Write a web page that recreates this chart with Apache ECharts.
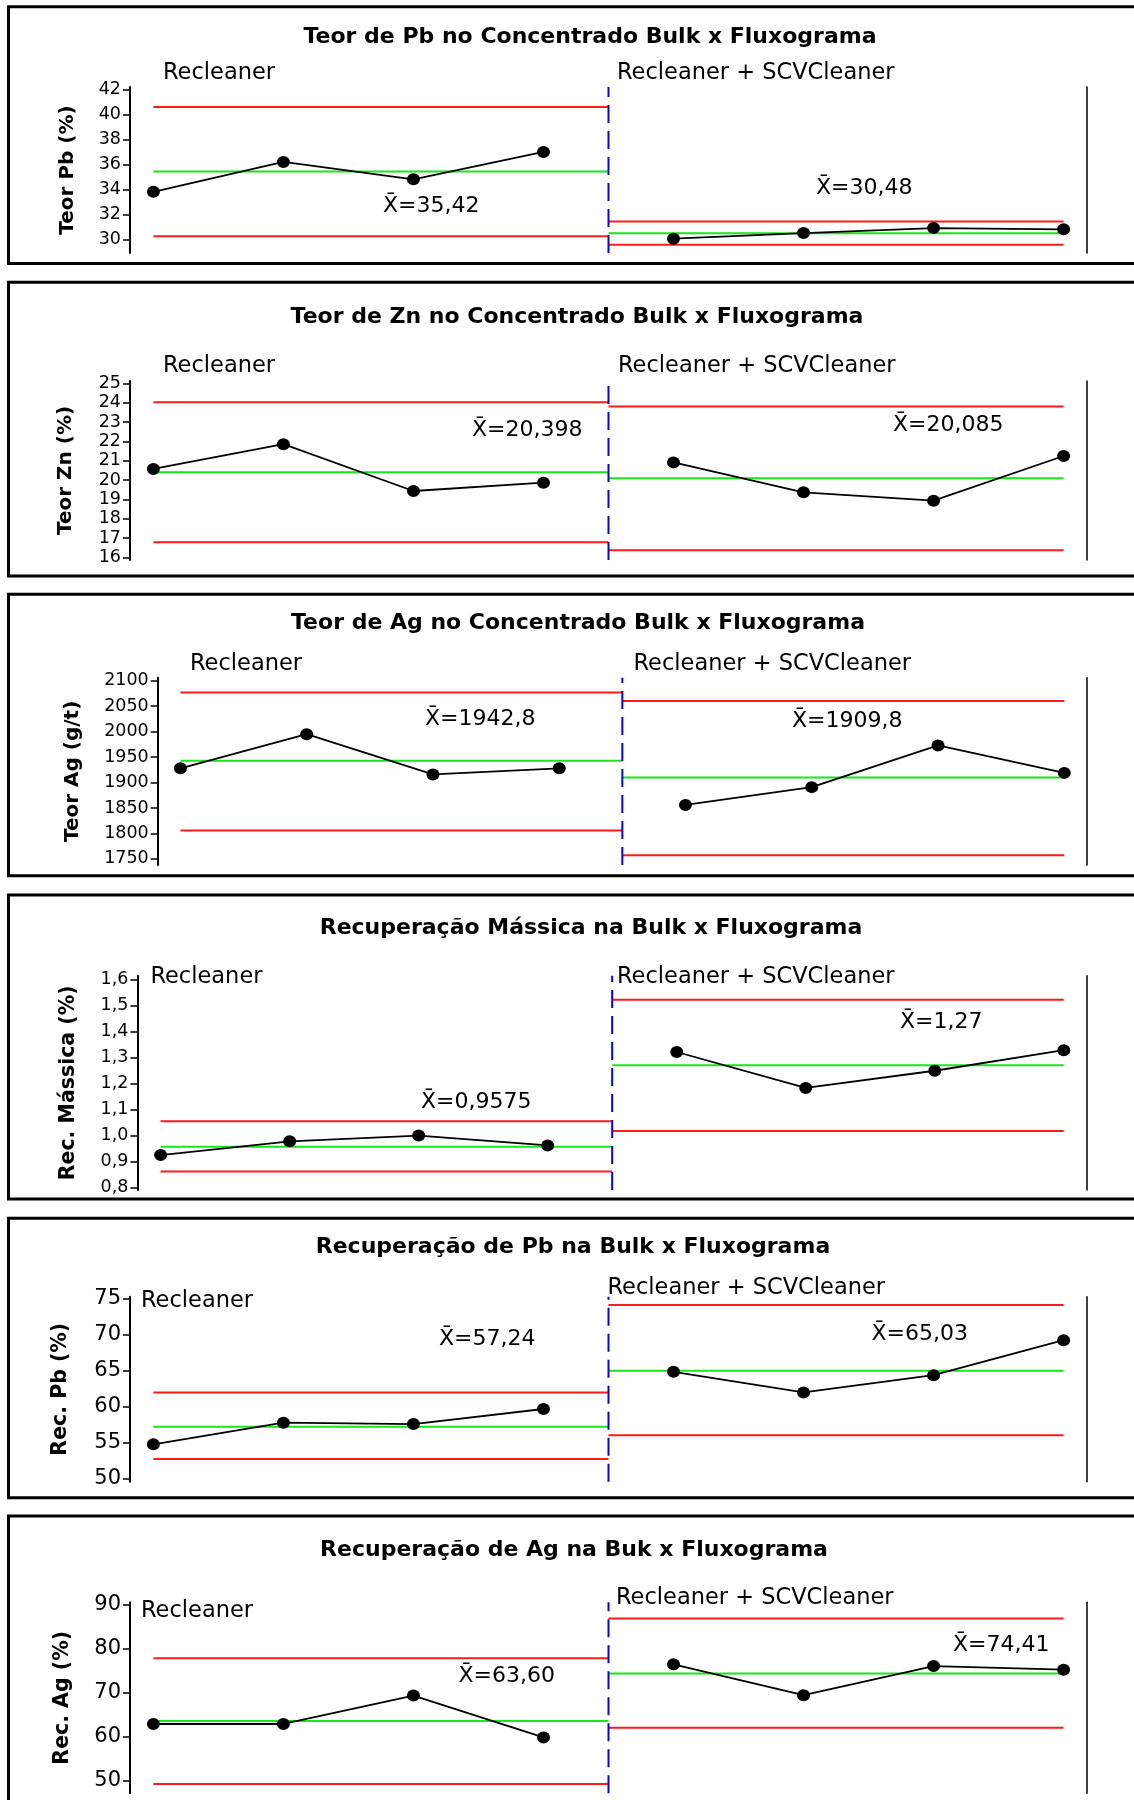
<!DOCTYPE html>
<html>
<head>
<meta charset="utf-8">
<script src="https://cdn.jsdelivr.net/npm/echarts@6/dist/echarts.min.js"></script>
<style>
  html, body { margin: 0; padding: 0; background: #ffffff; }
  #chart { width: 1134px; height: 1800px; }
</style>
</head>
<body>
<div id="chart"></div>
<script>
// Stages of the flowsheet comparison: four tests per stage
const stageNames = ['Recleaner', 'Recleaner + SCVCleaner'];
const pointsPerStage = 4;

// Teor de Pb no concentrado bulk (%)
const teorPbValues = [33.8, 36.2, 34.8, 37.0, 30.05, 30.5, 30.9, 30.8];
const teorPbMean = [35.42, 30.48];
const teorPbUCL = [40.6, 31.42];
const teorPbLCL = [30.25, 29.56];
const teorPbTicks = [30, 32, 34, 36, 38, 40, 42];

// Teor de Zn no concentrado bulk (%)
const teorZnValues = [20.57, 21.85, 19.43, 19.86, 20.91, 19.36, 18.93, 21.24];
const teorZnMean = [20.398, 20.085];
const teorZnUCL = [24.02, 23.8];
const teorZnLCL = [16.78, 16.37];
const teorZnTicks = [16, 17, 18, 19, 20, 21, 22, 23, 24, 25];

// Teor de Ag no concentrado bulk (g/t)
const teorAgValues = [1928, 1995, 1916, 1928, 1856, 1891, 1973, 1919];
const teorAgMean = [1942.8, 1909.8];
const teorAgUCL = [2077, 2060];
const teorAgLCL = [1806, 1757];
const teorAgTicks = [1750, 1800, 1850, 1900, 1950, 2000, 2050, 2100];

// Recuperação mássica na bulk (%)
const recMassValues = [0.925, 0.978, 1.0, 0.962, 1.321, 1.183, 1.249, 1.328];
const recMassMean = [0.9575, 1.27];
const recMassUCL = [1.055, 1.522];
const recMassLCL = [0.862, 1.018];
const recMassTicks = [0.8, 0.9, 1.0, 1.1, 1.2, 1.3, 1.4, 1.5, 1.6];

// Recuperação de Pb na bulk (%)
const recPbValues = [54.8, 57.8, 57.6, 59.7, 64.86, 62.0, 64.4, 69.26];
const recPbMean = [57.24, 65.03];
const recPbUCL = [62.0, 74.15];
const recPbLCL = [52.75, 56.05];
const recPbTicks = [50, 55, 60, 65, 70, 75];

// Recuperação de Ag na bulk (%)
const recAgValues = [62.95, 62.95, 69.4, 59.9, 76.5, 69.5, 76.1, 75.3];
const recAgMean = [63.60, 74.41];
const recAgUCL = [77.9, 86.9];
const recAgLCL = [49.3, 62.1];
const recAgTicks = [50, 60, 70, 80, 90];

const FONT = '"DejaVu Sans", Verdana, sans-serif';
const RED = '#ff1a1a';
const GREEN = '#19e619';
const BLUE = '#0000ff';
const PLOT_RIGHT = 1087;

const panels = [
  { title: 'Teor de Pb no Concentrado Bulk x Fluxograma', yName: 'Teor Pb (%)',
    values: teorPbValues, mean: teorPbMean, ucl: teorPbUCL, lcl: teorPbLCL, ticks: teorPbTicks,
    yMin: 28.9, yMax: 42.2, tickDecimals: 0, meanDecimals: [2, 2],
    frame: [6.7, 263.5], titlePos: [590, 37], grid: [130, 87, 253], nameGap: 52, nameSize: 20, tickSize: 17.5,
    stagePos: [[163, 73], [617, 73]], meanPos: [[383, 206], [816, 188]] },
  { title: 'Teor de Zn no Concentrado Bulk x Fluxograma', yName: 'Teor Zn (%)',
    values: teorZnValues, mean: teorZnMean, ucl: teorZnUCL, lcl: teorZnLCL, ticks: teorZnTicks,
    yMin: 15.86, yMax: 25.12, tickDecimals: 0, meanDecimals: [3, 3],
    frame: [282.3, 576], titlePos: [577, 317], grid: [130, 381, 560], nameGap: 54, nameSize: 20, tickSize: 17.5,
    stagePos: [[163, 366], [618, 366]], meanPos: [[472, 430], [893, 425]] },
  { title: 'Teor de Ag no Concentrado Bulk x Fluxograma', yName: 'Teor Ag (g/t)',
    values: teorAgValues, mean: teorAgMean, ucl: teorAgUCL, lcl: teorAgLCL, ticks: teorAgTicks,
    yMin: 1738, yMax: 2106, tickDecimals: 0, meanDecimals: [1, 1],
    frame: [594.3, 875.7], titlePos: [578, 623], grid: [157.7, 677.7, 865], nameGap: 75, nameSize: 20, tickSize: 17.5,
    stagePos: [[190, 664], [633.5, 664]], meanPos: [[425, 719], [792, 721]] },
  { title: 'Recuperação Mássica na Bulk x Fluxograma', yName: 'Rec. Mássica (%)',
    values: recMassValues, mean: recMassMean, ucl: recMassUCL, lcl: recMassLCL, ticks: recMassTicks,
    yMin: 0.791, yMax: 1.614, tickDecimals: 1, meanDecimals: [4, 2],
    frame: [895, 1199], titlePos: [591, 928], grid: [137.4, 975.7, 1190], nameGap: 58, nameSize: 20.5, tickSize: 17.5,
    stagePos: [[150.4, 977], [617, 977]], meanPos: [[421, 1102], [900, 1022]] },
  { title: 'Recuperação de Pb na Bulk x Fluxograma', yName: 'Rec. Pb (%)',
    values: recPbValues, mean: recPbMean, ucl: recPbUCL, lcl: recPbLCL, ticks: recPbTicks,
    yMin: 49.6, yMax: 75.3, tickDecimals: 0, meanDecimals: [2, 2],
    frame: [1218.3, 1497.7], titlePos: [573, 1247], grid: [130, 1296.7, 1481.7], nameGap: 59, nameSize: 20.5, tickSize: 21,
    stagePos: [[141, 1301], [607.5, 1288]], meanPos: [[439, 1339], [871.5, 1334]] },
  { title: 'Recuperação de Ag na Buk x Fluxograma', yName: 'Rec. Ag (%)',
    values: recAgValues, mean: recAgMean, ucl: recAgUCL, lcl: recAgLCL, ticks: recAgTicks,
    yMin: 47.2, yMax: 90.6, tickDecimals: 0, meanDecimals: [2, 2],
    frame: [1516, 1815], titlePos: [574, 1550], grid: [130, 1602.3, 1793.3], nameGap: 57, nameSize: 20.5, tickSize: 21,
    stagePos: [[141, 1611], [616, 1598]], meanPos: [[458.5, 1676], [953, 1645]] }
];

const decimalComma = (v, d) => v.toFixed(d).replace('.', ',');

const grids = [], xAxes = [], yAxes = [], series = [], graphics = [];

panels.forEach((p, i) => {
  const [gLeft, gTop, gBottom] = p.grid;
  const n = pointsPerStage;
  const boundary = n + 0.5;

  grids.push({ left: gLeft, top: gTop, width: PLOT_RIGHT - gLeft, height: gBottom - gTop });

  xAxes.push({ gridIndex: i, type: 'value', min: 0.82, max: 2 * n + 0.18, show: false });

  yAxes.push({
    gridIndex: i, type: 'value', position: 'left', min: p.yMin, max: p.yMax,
    name: p.yName, nameLocation: 'middle', nameGap: p.nameGap, nameRotate: 90,
    nameTextStyle: { fontFamily: FONT, fontWeight: 'bold', fontSize: p.nameSize, color: '#000' },
    axisLine: { show: true, lineStyle: { color: '#000', width: 2 } },
    axisTick: { show: true, inside: false, length: 7, customValues: p.ticks,
      lineStyle: { color: '#000', width: 1.5 } },
    axisLabel: { show: true, margin: 9, customValues: p.ticks, fontFamily: FONT,
      fontSize: p.tickSize, color: '#000',
      formatter: v => decimalComma(v, p.tickDecimals) },
    splitLine: { show: false }
  });
  yAxes.push({
    gridIndex: i, type: 'value', position: 'right', min: p.yMin, max: p.yMax,
    axisLine: { show: true, lineStyle: { color: '#000', width: 1.5 } },
    axisTick: { show: false }, axisLabel: { show: false }, splitLine: { show: false }
  });

  const axisRef = { xAxisIndex: i, yAxisIndex: 2 * i };

  for (let s = 0; s < stageNames.length; s++) {
    const x0 = s === 0 ? 1 : boundary;
    const x1 = s === 0 ? boundary : 2 * n;
    const hLine = (val, color) => Object.assign({
      type: 'line', data: [[x0, val], [x1, val]], symbol: 'none', silent: true,
      lineStyle: { color: color, width: 2 }, z: 2
    }, axisRef);
    series.push(hLine(p.ucl[s], RED), hLine(p.lcl[s], RED), hLine(p.mean[s], GREEN));

    series.push(Object.assign({
      type: 'line',
      data: p.values.slice(s * n, (s + 1) * n).map((v, k) => [s * n + k + 1, v]),
      symbol: 'circle', symbolSize: [13, 12],
      itemStyle: { color: '#000' },
      lineStyle: { color: '#000', width: 1.8 },
      z: 5
    }, axisRef));
  }

  // stage boundary
  series.push(Object.assign({
    type: 'line', data: [[boundary, p.yMin], [boundary, p.yMax]], symbol: 'none', silent: true,
    lineStyle: { color: BLUE, width: 2, type: [18, 8] }, z: 3
  }, axisRef));

  // panel frame
  graphics.push({
    type: 'rect', z: 0, silent: true,
    shape: { x: 8.5, y: p.frame[0], width: 1200, height: p.frame[1] - p.frame[0] },
    style: { fill: null, stroke: '#000', lineWidth: 3 }
  });

  graphics.push({
    type: 'text', x: p.titlePos[0], y: p.titlePos[1], silent: true,
    style: { text: p.title, fontFamily: FONT, fontWeight: 'bold', fontSize: 22, fill: '#000',
      textAlign: 'center', textVerticalAlign: 'middle' }
  });

  stageNames.forEach((name, s) => {
    graphics.push({
      type: 'text', x: p.stagePos[s][0], y: p.stagePos[s][1], silent: true,
      style: { text: name, fontFamily: FONT, fontSize: 22.5, fill: '#000',
        textAlign: 'left', textVerticalAlign: 'middle' }
    });
    graphics.push({
      type: 'text', x: p.meanPos[s][0], y: p.meanPos[s][1], silent: true,
      style: { text: 'X\u0304=' + decimalComma(p.mean[s], p.meanDecimals[s]),
        fontFamily: FONT, fontSize: 22, fill: '#000',
        textAlign: 'left', textVerticalAlign: 'middle' }
    });
  });
});

const chart = echarts.init(document.getElementById('chart'), null, { renderer: 'canvas' });
chart.setOption({
  animation: false,
  backgroundColor: '#ffffff',
  grid: grids,
  xAxis: xAxes,
  yAxis: yAxes,
  series: series,
  graphic: { elements: graphics }
});
</script>
</body>
</html>
